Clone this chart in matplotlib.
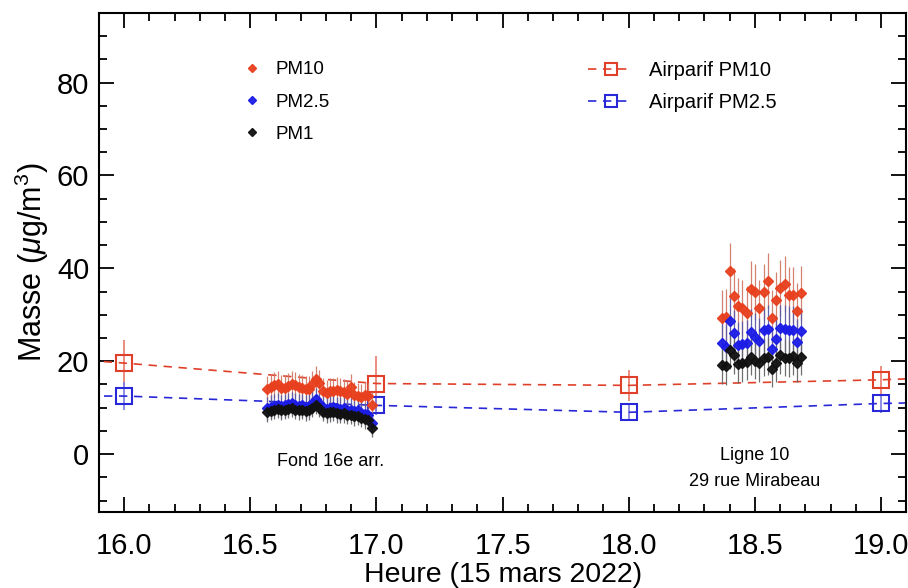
import matplotlib
matplotlib.use('Agg')
import matplotlib.pyplot as plt
from matplotlib.ticker import MultipleLocator

plt.rcParams['font.family'] = ['Liberation Sans', 'DejaVu Sans']
plt.rcParams['mathtext.fontset'] = 'custom'
plt.rcParams['mathtext.rm'] = 'Liberation Sans'
plt.rcParams['mathtext.it'] = 'Liberation Sans:italic'

# Fond 16e arr. (hour of day)
t_fond = [16.567, 16.581, 16.595, 16.608, 16.622, 16.636, 16.650, 16.664, 16.677, 16.691,
          16.705, 16.719, 16.733, 16.746, 16.760, 16.774, 16.788, 16.802, 16.815, 16.829,
          16.843, 16.857, 16.871, 16.884, 16.898, 16.912, 16.926, 16.940, 16.953, 16.967, 16.981]
pm10_fond = [14.0, 14.5, 14.9, 15.1, 14.2, 14.3, 14.7, 15.1, 14.9, 14.5,
             14.2, 14.0, 14.0, 15.1, 16.1, 15.4, 13.5, 13.1, 13.5, 13.6,
             13.8, 13.6, 13.3, 12.9, 14.5, 12.7, 12.5, 12.3, 12.7, 12.5, 10.5]
pm25_fond = [9.9, 10.2, 10.4, 10.6, 10.3, 10.5, 10.7, 10.9, 10.6, 10.4,
             10.5, 10.2, 10.4, 11.0, 11.8, 11.0, 10.1, 9.8, 10.0, 10.2,
             9.9, 9.7, 9.9, 9.5, 9.6, 9.2, 9.4, 8.9, 8.6, 8.4, 6.6]
pm1_fond = [9.0, 9.3, 9.5, 9.7, 9.4, 9.6, 9.8, 9.9, 9.6, 9.4,
            9.5, 9.2, 9.4, 9.9, 10.6, 9.9, 9.1, 8.8, 9.0, 9.1,
            8.8, 8.6, 8.8, 8.4, 8.5, 8.1, 8.2, 7.8, 7.5, 7.3, 5.6]

# Ligne 10, 29 rue Mirabeau
t_metro = [18.368, 18.385, 18.401, 18.418, 18.435, 18.451, 18.468, 18.485, 18.501, 18.518,
           18.535, 18.551, 18.568, 18.585, 18.601, 18.618, 18.635, 18.651, 18.668, 18.685]
pm10_metro = [29.4, 29.5, 39.4, 34.0, 31.9, 31.4, 30.3, 35.6, 34.9, 31.5,
              34.9, 37.3, 29.4, 33.2, 35.8, 36.7, 34.2, 34.2, 30.8, 34.6]
pm25_metro = [23.9, 23.1, 28.7, 26.0, 23.4, 23.7, 23.9, 26.2, 25.3, 24.4,
              26.7, 27.0, 22.6, 24.7, 27.2, 27.0, 26.8, 26.8, 24.2, 26.5]
pm1_metro = [19.1, 18.9, 22.4, 21.3, 19.4, 19.6, 19.9, 21.0, 20.1, 19.6,
             20.8, 21.0, 18.4, 19.6, 21.3, 20.8, 20.6, 21.1, 19.6, 21.0]

err_fond = {'PM10': 2.8, 'PM2.5': 2.5, 'PM1': 2.0}
err_metro = {'PM10': 6.0, 'PM2.5': 5.0, 'PM1': 4.0}

# Airparif hourly values
t_air = [15.0, 16.0, 17.0, 18.0, 19.0, 20.0]
air_pm10 = [23.5, 19.6, 15.2, 14.8, 16.0, 18.0]
air_pm10_err = [4.0, 5.0, 6.0, 3.3, 3.0, 3.0]
air_pm25 = [12.5, 12.5, 10.5, 9.0, 10.9, 12.0]
air_pm25_err = [3.0, 3.0, 2.0, 1.5, 2.0, 2.0]

red = '#e8401e'
blue = '#1c1ce6'
black = '#111111'

fig, ax = plt.subplots(figsize=(9.08, 5.88), dpi=100)
fig.subplots_adjust(left=0.109, right=0.998, top=0.978, bottom=0.129)

handles = {}
for name, col, ecol, yf, ym in [('PM10', red, '#d27a68', pm10_fond, pm10_metro),
                                ('PM2.5', blue, '#5a5aa8', pm25_fond, pm25_metro),
                                ('PM1', black, '#666666', pm1_fond, pm1_metro)]:
    c = ax.errorbar(t_fond, yf, yerr=err_fond[name], fmt='D', color=col, ms=5.5,
                    ecolor=ecol, elinewidth=0.9, alpha=0.95, zorder=3)
    ax.errorbar(t_metro, ym, yerr=err_metro[name], fmt='D', color=col, ms=5.5,
                ecolor=ecol, elinewidth=0.9, alpha=0.95, zorder=3)
    handles[name] = c[0]

a10 = ax.errorbar(t_air, air_pm10, yerr=air_pm10_err, fmt='s', color='#e0402a', ms=11,
                  mfc='none', mew=1.5, ls=(0, (5, 4)), lw=1.2, ecolor='#e87a6a', elinewidth=1.2)
a25 = ax.errorbar(t_air, air_pm25, yerr=air_pm25_err, fmt='s', color='#2828d8', ms=11,
                  mfc='none', mew=1.5, ls=(0, (5, 4)), lw=1.2, ecolor='#7a7ae0', elinewidth=1.2)

ax.set_xlim(15.9, 19.1)
ax.set_ylim(-12.5, 95)
ax.xaxis.set_major_locator(MultipleLocator(0.5))
ax.xaxis.set_minor_locator(MultipleLocator(0.1))
ax.yaxis.set_major_locator(MultipleLocator(20))
ax.yaxis.set_minor_locator(MultipleLocator(5))
ax.tick_params(which='both', direction='in', top=True, right=True, width=1.3, labelsize=21)
ax.tick_params(which='major', length=11)
ax.tick_params(which='minor', length=6)
ax.tick_params(axis='y', pad=7)
ax.tick_params(axis='x', pad=14)
ax.xaxis.set_major_formatter(plt.FuncFormatter(lambda v, p: f'{v:.1f}'))
for s in ax.spines.values():
    s.set_linewidth(1.5)

ax.set_xlabel('Heure (15 mars 2022)', fontsize=20.5, labelpad=2)
ax.set_ylabel(r'Masse ($\mu$g/m$^3$)', fontsize=22, labelpad=4)

ax.text(16.817, -1.5, 'Fond 16e arr.', fontsize=13, ha='center', va='center')
ax.text(18.5, -0.4, 'Ligne 10', fontsize=13, ha='center', va='center')
ax.text(18.5, -6.0, '29 rue Mirabeau', fontsize=13, ha='center', va='center')

leg1 = ax.legend([handles['PM10'], handles['PM2.5'], handles['PM1']], ['PM10', 'PM2.5', 'PM1'],
                 loc='upper left', bbox_to_anchor=(0.178, 0.903), frameon=False, fontsize=13.5,
                 handlelength=1.0, handletextpad=0.75, labelspacing=0.8, borderpad=0,
                 borderaxespad=0, markerscale=0.75, numpoints=1)
ax.add_artist(leg1)
ax.legend([a10[0], a25[0]], ['Airparif PM10', 'Airparif PM2.5'],
          loc='upper left', bbox_to_anchor=(0.606, 0.903), frameon=False, fontsize=14.5,
          handlelength=2.25, handletextpad=0.75, labelspacing=0.65, borderpad=0,
          borderaxespad=0, markerscale=0.8, numpoints=1)

fig.savefig('out.png', dpi=100)
